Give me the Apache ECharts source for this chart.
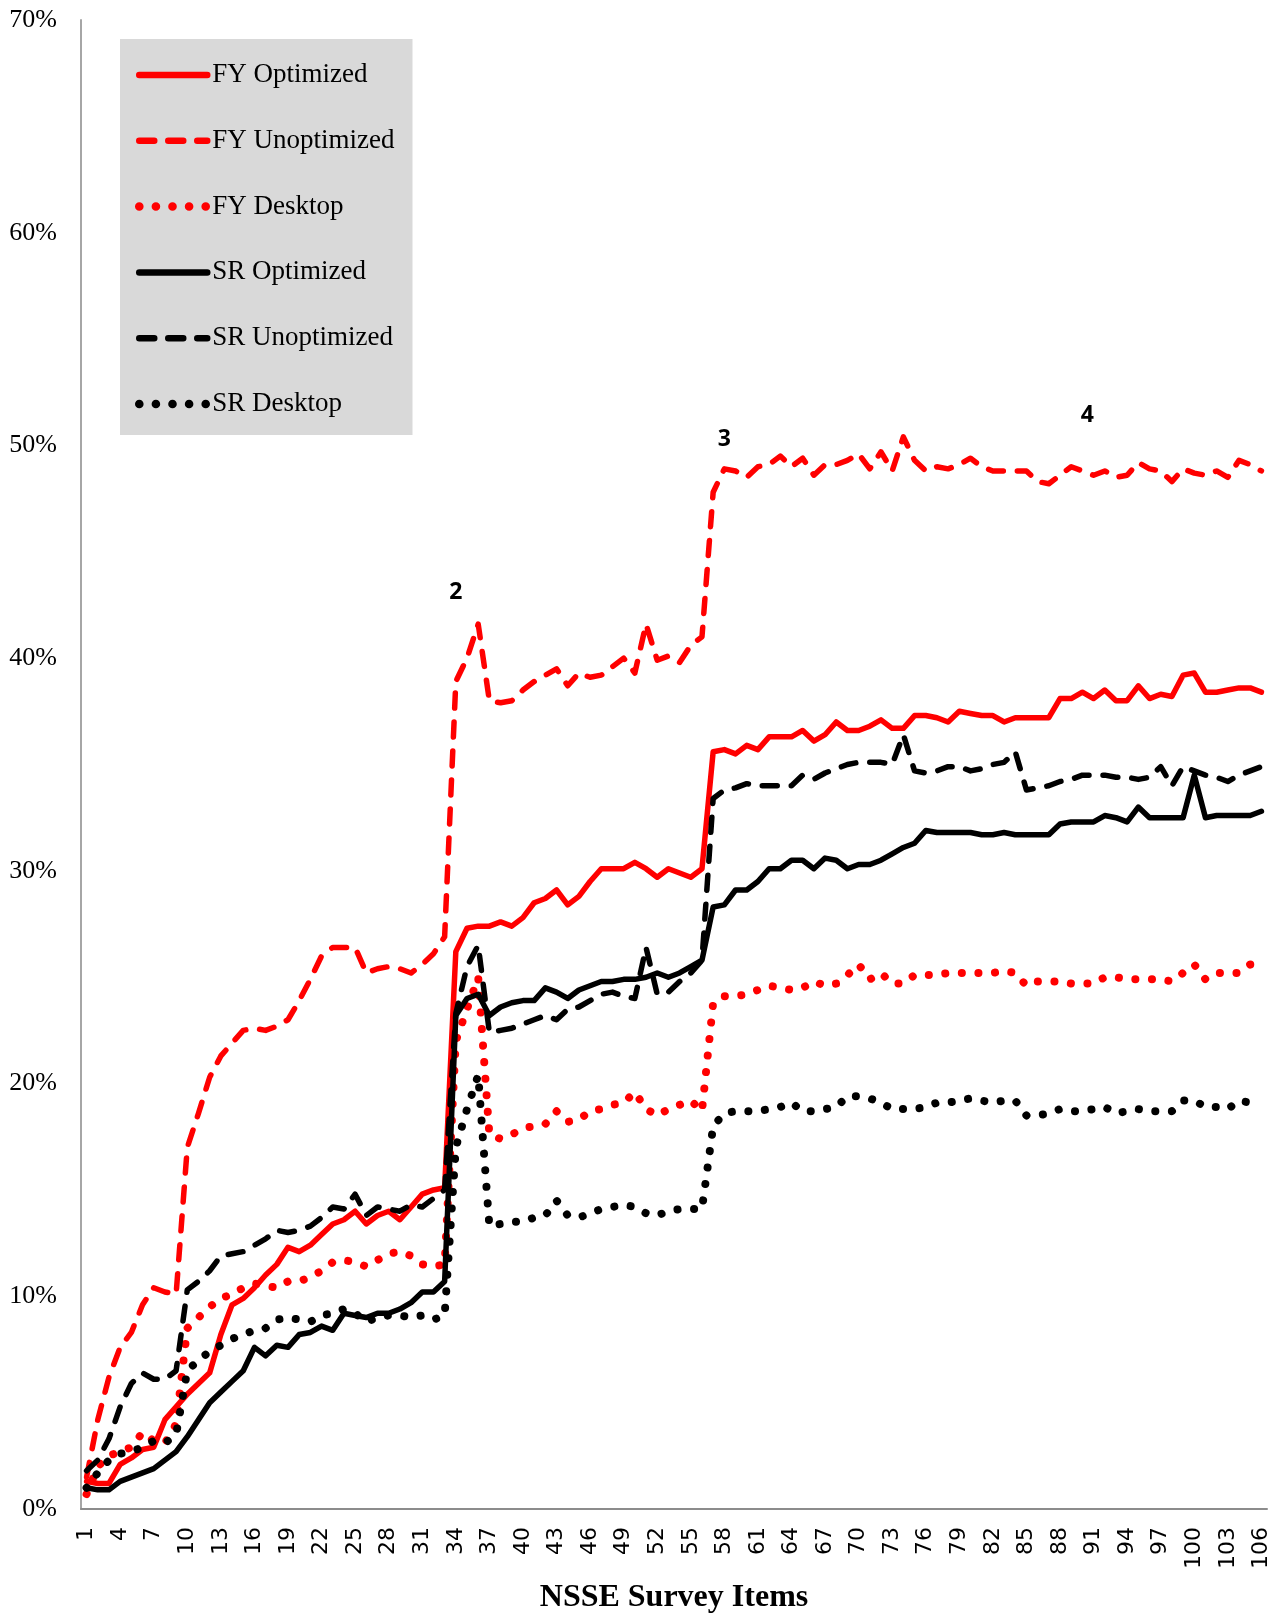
<!DOCTYPE html>
<html><head><meta charset="utf-8">
<script src="https://cdn.jsdelivr.net/npm/echarts@6/dist/echarts.min.js"></script>
<style>html,body{margin:0;padding:0;background:#fff}#c{width:1286px;height:1613px}</style>
</head><body><div id="c"></div>
<script>
const categories = ['1','2','3','4','5','6','7','8','9','10','11','12','13','14','15','16','17','18','19','20',
'21','22','23','24','25','26','27','28','29','30','31','32','33','34','35','36','37','38','39','40',
'41','42','43','44','45','46','47','48','49','50','51','52','53','54','55','56','57','58','59','60',
'61','62','63','64','65','66','67','68','69','70','71','72','73','74','75','76','77','78','79','80',
'81','82','83','84','85','86','87','88','89','90','91','92','93','94','95','96','97','98','99','100',
'101','102','103','104','105','106'];

const seriesNames = ['FY Optimized','FY Unoptimized','FY Desktop','SR Optimized','SR Unoptimized','SR Desktop'];

const fyOptimized = [1.3,1.2,1.2,2.1,2.4,2.8,2.9,4.2,4.8,5.4,5.9,6.4,8.2,9.6,9.9,10.4,11.0,11.5,12.3,12.1,
12.4,12.9,13.4,13.6,14.0,13.4,13.8,14.0,13.6,14.2,14.8,15.0,15.1,
26.2,27.3,27.4,27.4,27.6,27.4,27.8,28.5,28.7,29.1,28.4,28.8,29.5,30.1,30.1,30.1,30.4,30.1,29.7,30.1,29.9,29.7,30.1,
35.6,35.7,35.5,35.9,35.7,36.3,36.3,36.3,36.6,36.1,36.4,37.0,36.6,36.6,36.8,37.1,36.7,36.7,37.3,37.3,
37.2,37.0,37.5,37.4,37.3,37.3,37.0,37.2,37.2,37.2,37.2,38.1,38.1,38.4,38.1,38.5,38.0,38.0,38.7,38.1,
38.3,38.2,39.2,39.3,38.4,38.4,38.5,38.6,38.6,38.4];

const fyUnoptimized = [1.5,4.2,6.2,7.6,8.3,9.6,10.4,10.2,10.1,17.0,18.6,20.3,21.3,21.9,22.5,22.6,22.5,22.7,23.0,23.9,
24.9,26.0,26.4,26.4,26.4,25.2,25.4,25.5,25.4,25.2,25.6,26.1,26.9,
38.9,40.0,41.6,38.0,37.9,38.0,38.5,38.9,39.2,39.5,38.7,39.3,39.1,39.2,39.6,40.0,39.3,41.6,39.9,40.1,39.8,40.6,41.0,
47.8,48.9,48.8,48.5,49.0,49.1,49.5,49.0,49.4,48.6,49.1,49.1,49.3,49.6,48.9,49.7,48.8,50.4,49.3,48.8,
49.0,48.9,49.1,49.4,49.0,48.8,48.8,48.8,48.8,48.3,48.2,48.6,49.0,48.8,48.6,48.8,48.5,48.6,49.2,48.9,
48.8,48.3,48.9,48.7,48.6,48.8,48.5,49.3,49.1,48.8];

const fyDesktop = [0.7,2.0,2.5,2.7,2.9,3.6,3.2,3.1,4.0,8.5,9.0,9.5,9.9,10.1,10.4,10.6,10.5,10.4,10.7,10.7,
10.9,11.2,11.6,11.7,11.6,11.4,11.7,12.0,12.1,11.9,11.5,11.4,11.5,
22.0,23.5,25.0,17.6,17.4,17.6,17.9,18.0,18.1,18.7,18.2,18.3,18.7,18.8,19.0,19.1,19.6,18.8,18.5,18.8,19.0,19.2,18.7,
23.8,24.1,24.1,24.2,24.4,24.6,24.5,24.4,24.5,24.8,24.6,24.7,25.1,25.6,24.9,25.2,24.7,24.7,25.1,25.1,
25.1,25.2,25.2,25.2,25.2,25.2,25.3,25.2,24.6,24.8,24.8,24.8,24.7,24.7,24.7,25.0,25.0,24.9,24.9,24.9,
24.9,24.8,25.2,25.6,24.9,25.2,25.2,25.2,25.6,25.6];

const srOptimized = [1.0,0.9,0.9,1.3,1.5,1.7,1.9,2.3,2.7,3.4,4.2,5.0,5.5,6.0,6.5,7.6,7.2,7.7,7.6,8.2,
8.3,8.6,8.4,9.2,9.1,9.0,9.2,9.2,9.4,9.7,10.2,10.2,10.7,
23.2,24.0,24.2,23.2,23.6,23.8,23.9,23.9,24.5,24.3,24.0,24.4,24.6,24.8,24.8,24.9,24.9,25.0,25.2,25.0,25.2,25.5,25.8,
28.3,28.4,29.1,29.1,29.5,30.1,30.1,30.5,30.5,30.1,30.6,30.5,30.1,30.3,30.3,30.5,30.8,31.1,31.3,31.9,
31.8,31.8,31.8,31.8,31.7,31.7,31.8,31.7,31.7,31.7,31.7,32.2,32.3,32.3,32.3,32.6,32.5,32.3,33.0,32.5,
32.5,32.5,32.5,34.5,32.5,32.6,32.6,32.6,32.6,32.8];

const srUnoptimized = [1.8,2.3,3.3,4.8,5.9,6.4,6.1,6.1,6.5,10.3,10.7,11.2,11.9,12.0,12.1,12.4,12.7,13.1,13.0,13.1,
13.3,13.7,14.2,14.1,14.8,13.8,14.2,14.1,14.0,14.3,14.2,14.6,15.0,
23.3,25.5,26.5,22.4,22.5,22.6,22.8,23.0,23.2,23.0,23.5,23.6,23.9,24.2,24.3,24.1,24.0,26.4,24.2,24.3,24.8,25.2,25.8,
33.4,33.8,33.9,34.1,34.0,34.0,34.0,34.0,34.5,34.3,34.6,34.8,35.0,35.1,35.1,35.1,35.0,36.4,34.7,34.6,
34.7,34.9,34.9,34.7,34.8,35.0,35.1,35.6,33.8,33.9,34.0,34.2,34.3,34.5,34.5,34.5,34.4,34.4,34.3,34.4,
34.9,34.0,34.9,34.7,34.5,34.4,34.2,34.5,34.7,34.9];

const srDesktop = [1.0,1.7,2.3,2.6,2.7,2.9,3.2,3.1,3.5,6.5,7.0,7.4,7.7,8.0,8.2,8.4,8.5,8.9,9.0,8.9,
8.8,9.1,9.2,9.4,9.2,8.8,9.0,9.1,9.1,9.0,9.1,8.9,9.1,
17.0,18.8,20.4,13.3,13.4,13.5,13.5,13.7,13.8,14.5,13.8,13.7,13.9,14.1,14.2,14.3,14.2,13.9,13.8,14.0,14.1,14.1,14.1,
18.0,18.6,18.7,18.7,18.7,18.8,18.9,19.1,18.7,18.7,18.8,18.9,19.4,19.4,19.3,19.1,18.8,18.8,18.8,18.9,
19.1,19.1,19.2,19.3,19.2,19.1,19.2,19.2,18.5,18.5,18.6,18.8,18.7,18.7,18.8,18.9,18.6,18.7,18.8,18.7,
18.7,18.7,19.2,19.2,18.9,18.9,18.8,19.2,19.1,19.0];

const annotationLabels = ['2','3','4'];
const annotationItems = ['34','58','90'];
const annotationValues = [43.1, 50.3, 51.4];

const yMin = 0, yMax = 70, yStep = 10;
const xAxisTitle = 'NSSE Survey Items';

const seriesValues = [fyOptimized, fyUnoptimized, fyDesktop, srOptimized, srUnoptimized, srDesktop];
const colors = ['#ff0000','#ff0000','#ff0000','#000000','#000000','#000000'];
const solidStyle = {width: 5.5, type: 'solid', cap: 'round', join: 'round'};
const dashStyle = {width: 5.5, type: [15, 14], cap: 'round', join: 'round'};
const dotStyle = {width: 8, type: [0.1, 16.5], cap: 'round', join: 'round'};
const styles = [solidStyle, dashStyle, dotStyle, solidStyle, dashStyle, dotStyle];
const legendWidths = [6.5, 6.5, 8.5, 6.5, 6.5, 8.5];

const chart = echarts.init(document.getElementById('c'), null, {renderer: 'canvas'});

const series = seriesNames.map((name, i) => {
  const s = {
    name: name,
    type: 'line',
    data: seriesValues[i],
    symbol: 'none',
    showSymbol: false,
    smooth: false,
    color: colors[i],
    lineStyle: Object.assign({color: colors[i]}, styles[i]),
    emphasis: {disabled: true},
    z: 2 + i
  };
  if (i === 0) {
    s.markPoint = {
      silent: true,
      symbol: 'circle',
      symbolSize: 1,
      itemStyle: {color: 'rgba(0,0,0,0)'},
      label: {
        show: true, position: 'inside', formatter: '{b}',
        color: '#000', fontFamily: 'Open Sans', fontWeight: 'bold', fontSize: 23
      },
      data: annotationLabels.map((t, k) => ({
        name: t, coord: [annotationItems[k], annotationValues[k]],
        label: k === 2 ? {offset: [5, 0]} : {}
      }))
    };
  }
  return s;
});

chart.setOption({
  animation: false,
  backgroundColor: '#ffffff',
  grid: {left: 81, right: 19, top: 20, bottom: 104, containLabel: false, outerBoundsMode: 'none'},
  legend: {
    orient: 'vertical',
    left: 120, top: 39,
    backgroundColor: '#d9d9d9',
    padding: [21, 18, 16, 15],
    itemWidth: 68, itemHeight: 14, itemGap: 35.8,
    selectedMode: false,
    itemStyle: {opacity: 0},
    lineStyle: {width: 'inherit'},
    textStyle: {fontFamily: 'Liberation Serif', fontSize: 27, color: '#000', lineHeight: 30},
    data: seriesNames.map((n, i) => ({name: n, lineStyle: {width: legendWidths[i]}}))
  },
  xAxis: {
    type: 'category',
    data: categories,
    boundaryGap: true,
    name: xAxisTitle,
    nameLocation: 'middle',
    nameGap: 73,
    nameTextStyle: {fontFamily: 'Liberation Serif', fontWeight: 'bold', fontSize: 32, color: '#000'},
    axisLine: {show: true, lineStyle: {color: '#8c8c8c', width: 2}},
    axisTick: {show: false},
    axisLabel: {interval: 2, rotate: 90, margin: 18, fontFamily: 'DejaVu Sans', fontSize: 22, color: '#000'},
    splitLine: {show: false}
  },
  yAxis: {
    type: 'value',
    min: yMin, max: yMax, interval: yStep,
    axisLine: {show: true, lineStyle: {color: '#a6a6a6', width: 2}},
    axisTick: {show: false},
    splitLine: {show: false},
    axisLabel: {formatter: '{value}%', margin: 24, fontFamily: 'Liberation Serif', fontSize: 26, color: '#000'}
  },
  series: series
});
</script>
</body></html>
